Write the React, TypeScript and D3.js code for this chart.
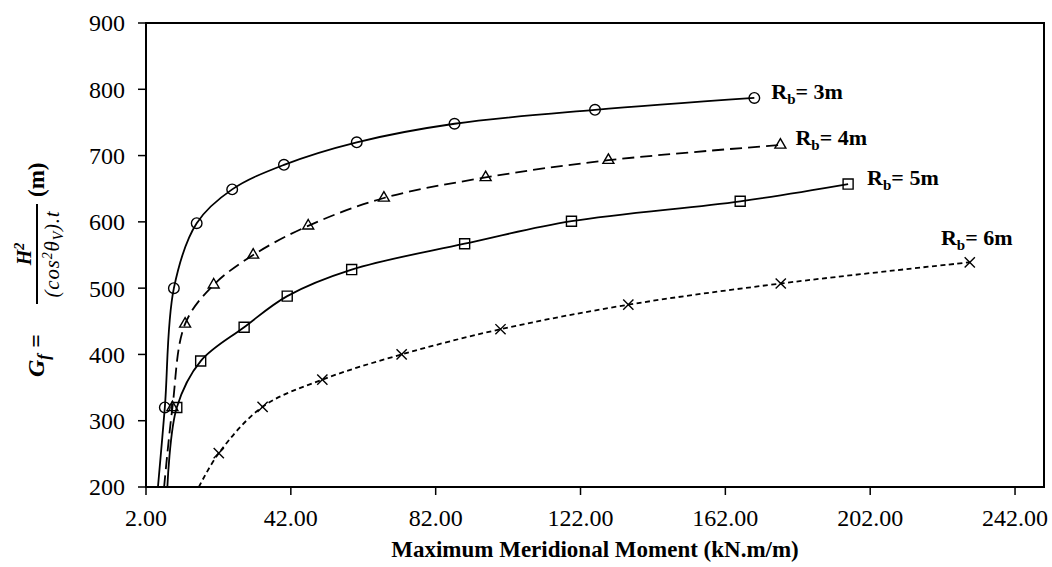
import React from 'react';
import * as d3 from 'd3';

// tick values
const xTicks = [2, 42, 82, 122, 162, 202, 242];
const yTicks = [200, 300, 400, 500, 600, 700, 800, 900];

// Rb = 3m (circles)
const r3X = [7.2, 9.7, 16.0, 25.8, 40.1, 60.2, 87.2, 126, 170];
const r3Y = [320, 500, 598, 649, 686, 720, 748, 769, 787];
// Rb = 4m (triangles)
const r4X = [9.3, 12.8, 20.7, 31.6, 46.8, 67.7, 95.8, 129.7, 177.2];
const r4Y = [320, 446, 505, 550, 594, 636, 667, 693, 716];
// Rb = 5m (squares)
const r5X = [10.5, 17.1, 29.1, 41, 58.8, 90, 119.5, 166.1, 195.9];
const r5Y = [320, 390, 441, 488, 528, 567, 601, 631, 657];
// Rb = 6m (crosses)
const r6X = [22.1, 34.2, 50.7, 72.6, 99.9, 135.2, 177.3, 229.5];
const r6Y = [251, 321, 362, 400, 438, 475, 507, 539];

// where each smoothed line runs out of the bottom of the plot (no marker)
const leadX = [5.3, 7.0, 7.9, 16.6];
const leadY = [200, 200, 200, 200];

const labels = ['3m', '4m', '5m', '6m'];

const W = 1052;
const H = 567;
const margin = { top: 23, right: 8, bottom: 80, left: 146 };

const serif = 'Liberation Serif, Times New Roman, serif';

export default function App() {
  const x = d3.scaleLinear().domain([2, 250]).range([margin.left, W - margin.right]);
  const y = d3.scaleLinear().domain([200, 900]).range([H - margin.bottom, margin.top]);

  const line = d3
    .line<[number, number]>()
    .x(d => x(d[0]))
    .y(d => y(d[1]))
    .curve(d3.curveCatmullRom.alpha(0.5));

  const series = [
    { xs: r3X, ys: r3Y, symbol: d3.symbolCircle, size: 88, dash: 'none', lab: { dx: 17, dy: -7, anchor: 'start' } },
    { xs: r4X, ys: r4Y, symbol: d3.symbolTriangle2, size: 86, dash: '12,6', lab: { dx: 15, dy: -8, anchor: 'start' } },
    { xs: r5X, ys: r5Y, symbol: d3.symbolSquare2, size: 128, dash: 'none', lab: { dx: 19, dy: -7, anchor: 'start' } },
    { xs: r6X, ys: r6Y, symbol: d3.symbolTimes, size: 70, dash: '5,3.5', lab: { dx: 7, dy: -25, anchor: 'middle' } },
  ];

  const x0 = margin.left;
  const x1 = W - margin.right;
  const y0 = H - margin.bottom;
  const y1 = margin.top;

  return (
    <svg
      width={W}
      height={H}
      style={{ position: 'absolute', left: 0, top: 0, background: '#fff' }}
      fontFamily={serif}
    >
      <defs>
        <clipPath id="plot">
          <rect x={x0} y={y1} width={x1 - x0} height={y0 - y1} />
        </clipPath>
      </defs>
      <rect width={W} height={H} fill="#fff" />

      {/* curves */}
      <g clipPath="url(#plot)">
        {series.map((s, i) => {
          const pts: [number, number][] = [[leadX[i], leadY[i]], ...s.xs.map((v, j) => [v, s.ys[j]] as [number, number])];
          return (
            <path
              key={i}
              d={line(pts) || ''}
              fill="none"
              stroke="#000"
              strokeWidth={1.8}
              strokeDasharray={s.dash}
            />
          );
        })}
      </g>

      {/* markers */}
      {series.map((s, i) => {
        const sym = d3.symbol().type(s.symbol).size(s.size)();
        return (
          <g key={i}>
            {s.xs.map((v, j) => (
              <path
                key={j}
                d={sym || ''}
                transform={`translate(${x(v)},${y(s.ys[j])})`}
                fill="none"
                stroke="#000"
                strokeWidth={1.4}
              />
            ))}
          </g>
        );
      })}

      {/* series labels */}
      {series.map((s, i) => {
        const lx = x(s.xs[s.xs.length - 1]) + s.lab.dx;
        const ly = y(s.ys[s.ys.length - 1]) + s.lab.dy;
        return (
          <text
            key={i}
            x={lx}
            y={ly}
            dy="0.35em"
            fontSize={22}
            fontWeight="bold"
            textAnchor={s.lab.anchor}
          >
            R<tspan dy={5} fontSize={15}>b</tspan>
            <tspan dy={-5}>= {labels[i]}</tspan>
          </text>
        );
      })}

      {/* frame */}
      <rect x={x0} y={y1} width={x1 - x0} height={y0 - y1} fill="none" stroke="#000" strokeWidth={2} />

      {/* y axis ticks */}
      {yTicks.map(t => (
        <g key={t}>
          <line x1={x0 - 8} x2={x0} y1={y(t)} y2={y(t)} stroke="#000" strokeWidth={1.5} />
          <text x={x0 - 21} y={y(t)} dy="0.35em" textAnchor="end" fontSize={24}>
            {t}
          </text>
        </g>
      ))}

      {/* x axis ticks */}
      {xTicks.map(t => (
        <g key={t}>
          <line x1={x(t)} x2={x(t)} y1={y0} y2={y0 + 8} stroke="#000" strokeWidth={1.5} />
          <text x={x(t)} y={y0 + 39} textAnchor="middle" fontSize={24}>
            {d3.format('.2f')(t)}
          </text>
        </g>
      ))}

      {/* x title */}
      <text x={(x0 + x1) / 2} y={H - 10} textAnchor="middle" fontSize={23} fontWeight="bold">
        Maximum Meridional Moment (kN.m/m)
      </text>

      {/* y title: G_f = H^2 / ((cos^2 θ_V).t) (m) */}
      <g transform="rotate(-90)">
        <text x={-377} y={44} fontSize={24} fontWeight="bold" fontStyle="italic">
          G<tspan dy={5} fontSize={17}>f</tspan>
          <tspan dy={-5}> =</tspan>
        </text>
        <line x1={-304} x2={-204} y1={37} y2={37} stroke="#000" strokeWidth={2} />
        <text x={-254} y={31} textAnchor="middle" fontSize={20} fontWeight="bold" fontStyle="italic">
          H<tspan dy={-7} fontSize={14}>2</tspan>
        </text>
        <text x={-254} y={59} textAnchor="middle" fontSize={21} fontStyle="italic" letterSpacing={0.8}>
          (cos<tspan dy={-7} fontSize={14}>2</tspan>
          <tspan dy={7}>θ</tspan>
          <tspan dy={4} fontSize={14}>V</tspan>
          <tspan dy={-4}>).t</tspan>
        </text>
        <text x={-197} y={44} fontSize={23} fontWeight="bold">
          (m)
        </text>
      </g>
    </svg>
  );
}
